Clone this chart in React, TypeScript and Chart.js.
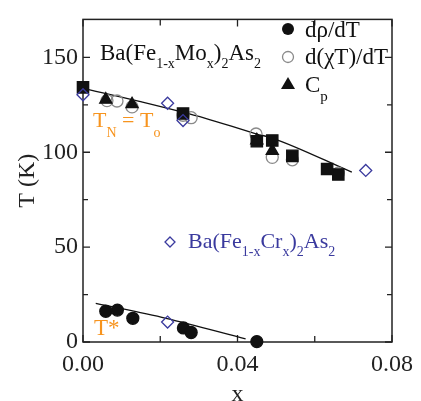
import React, { useEffect, useRef } from "react";
import { Chart, registerables } from "chart.js";
Chart.register(...registerables);

// ---- data (x, T in K) ----
const xLabelTicks = [0, 0.04, 0.08];
const yLabelTicks = [0, 50, 100, 150];

const moSquares: [number, number][] = [
  [0, 134.2], [0.0259, 120.4], [0.045, 105.8], [0.049, 106.2], [0.0542, 98.1], [0.0632, 91.2], [0.0661, 88.3],
];
const moRho: [number, number][] = [
  [0.0059, 16.2], [0.0089, 16.8], [0.0129, 12.5], [0.026, 7.4], [0.028, 5.0], [0.045, 0.2],
];
const moChi: [number, number][] = [
  [0.0062, 127.2], [0.0088, 127.0], [0.0127, 123.9], [0.0259, 119.5], [0.028, 118.2], [0.0448, 109.6],
  [0.049, 97.3], [0.0542, 96.0], [0.0661, 89.0],
];
const moCp: [number, number][] = [
  [0.0059, 127.7], [0.0127, 125.3], [0.045, 106.3], [0.049, 100.7],
];
const crDiamonds: [number, number][] = [
  [0, 130.3], [0.0219, 125.8], [0.0259, 116.7], [0.0732, 90.4], [0.0219, 10.5],
];
const upperFit: [number, number][] = [
  [0, 133.7], [0.0146, 126.8], [0.0317, 117.9], [0.045, 109.6], [0.0488, 107.6], [0.0696, 89.5],
];
const lowerFit: [number, number][] = [
  [0.0033, 20.4], [0.0215, 12.5], [0.0421, 1.7],
];

const BLACK = "#111111";
const GREY = "#8a8a8a";
const BLUE = "#3a3a9e";
const ORANGE = "#f7941e";
const FONT = "'Liberation Serif', 'Times New Roman', serif";

const toPts = (a: [number, number][]) => a.map(([x, y]) => ({ x, y }));

type Part = [string, boolean?];
function drawRich(ctx: CanvasRenderingContext2D, x: number, y: number, parts: Part[], size: number, subSize: number, subDy: number, color: string) {
  ctx.save();
  ctx.fillStyle = color;
  ctx.textBaseline = "alphabetic";
  ctx.textAlign = "left";
  let cx = x;
  for (const [t, sub] of parts) {
    ctx.font = `${sub ? subSize : size}px ${FONT}`;
    ctx.fillText(t, cx, sub ? y + subDy : y);
    cx += ctx.measureText(t).width;
  }
  ctx.restore();
}

const framePlugin = {
  id: "frame",
  beforeDatasetsDraw(chart: any) {
    const { ctx, chartArea: a, scales } = chart;
    ctx.save();
    ctx.strokeStyle = "#222";
    ctx.lineWidth = 1.5;
    ctx.strokeRect(a.left, a.top, a.right - a.left, a.bottom - a.top);
    ctx.lineWidth = 1.3;
    ctx.beginPath();
    for (const t of scales.x.ticks) {
      const px = scales.x.getPixelForValue(t.value);
      const major = xLabelTicks.some((v) => Math.abs(v - t.value) < 1e-9);
      const len = major ? 7 : 6;
      ctx.moveTo(px, a.bottom); ctx.lineTo(px, a.bottom - len);
      ctx.moveTo(px, a.top); ctx.lineTo(px, a.top + len);
    }
    for (const t of scales.y.ticks) {
      if (t.value > 160) continue;
      const py = scales.y.getPixelForValue(t.value);
      const major = yLabelTicks.includes(t.value);
      const len = major ? 7 : 5;
      ctx.moveTo(a.left, py); ctx.lineTo(a.left + len, py);
      ctx.moveTo(a.right, py); ctx.lineTo(a.right - len, py);
    }
    ctx.stroke();
    ctx.restore();
  },
  afterDraw(chart: any) {
    const { ctx } = chart;
    // legend
    ctx.save();
    ctx.fillStyle = BLACK;
    ctx.beginPath(); ctx.arc(288, 29, 6, 0, Math.PI * 2); ctx.fill();
    ctx.strokeStyle = GREY; ctx.lineWidth = 1.3;
    ctx.beginPath(); ctx.arc(288, 57, 5.5, 0, Math.PI * 2); ctx.stroke();
    ctx.beginPath(); ctx.moveTo(288, 77); ctx.lineTo(295, 89); ctx.lineTo(281, 89); ctx.closePath(); ctx.fill();
    ctx.restore();
    drawRich(ctx, 305, 37, [["dρ/dT"]], 23, 14, 8, BLACK);
    drawRich(ctx, 305, 64, [["d(χT)/dT"]], 23, 14, 8, BLACK);
    drawRich(ctx, 305, 92, [["C"], ["p", true]], 23, 15, 9, BLACK);
    // annotations
    drawRich(ctx, 100, 60, [["Ba(Fe"], ["1-x", true], ["Mo"], ["x", true], [")"], ["2", true], ["As"], ["2", true]], 23, 14, 8, BLACK);
    drawRich(ctx, 93, 127, [["T"], ["N", true], [" = T"], ["o", true]], 22, 14, 10, ORANGE);
    drawRich(ctx, 94, 335, [["T*"]], 23, 14, 9, ORANGE);
    ctx.save();
    ctx.strokeStyle = BLUE; ctx.lineWidth = 1.3;
    ctx.beginPath(); ctx.moveTo(170, 237); ctx.lineTo(175, 242); ctx.lineTo(170, 247); ctx.lineTo(165, 242); ctx.closePath(); ctx.stroke();
    ctx.restore();
    drawRich(ctx, 188, 248, [["Ba(Fe"], ["1-x", true], ["Cr"], ["x", true], [")"], ["2", true], ["As"], ["2", true]], 22, 14, 8, BLUE);
  },
};

export default function App() {
  const ref = useRef<HTMLCanvasElement>(null);
  useEffect(() => {
    if (!ref.current) return;
    const scatter = (data: [number, number][], style: string, fill: string, stroke: string, r: number, order: number, bw = 1.3) => ({
      type: "scatter" as const,
      data: toPts(data),
      pointStyle: style,
      pointRadius: r,
      pointBackgroundColor: fill,
      pointBorderColor: stroke,
      pointBorderWidth: bw,
      showLine: false,
      clip: false as any,
      order,
    });
    const line = (data: [number, number][]) => ({
      type: "line" as const,
      data: toPts(data),
      borderColor: BLACK,
      borderWidth: 1.3,
      pointRadius: 0,
      cubicInterpolationMode: "monotone" as const,
      fill: false,
      clip: false as any,
      order: 10,
    });
    const chart = new Chart(ref.current, {
      type: "scatter",
      data: {
        datasets: [
          line(upperFit),
          line(lowerFit),
          scatter(moChi, "circle", "rgba(255,255,255,0)", GREY, 6, 6),
          scatter(moSquares, "rect", BLACK, BLACK, 8, 5),
          scatter(moCp, "triangle", BLACK, BLACK, 7, 4),
          scatter(moRho, "circle", BLACK, BLACK, 6, 3),
          scatter(crDiamonds, "rectRot", "rgba(255,255,255,0)", BLUE, 6, 2),
        ] as any,
      },
      options: {
        responsive: false,
        animation: false,
        devicePixelRatio: 1,
        layout: { padding: { top: 13, right: 26, left: 0, bottom: 0 } },
        plugins: { legend: { display: false }, tooltip: { enabled: false } },
        scales: {
          x: {
            type: "linear",
            min: 0,
            max: 0.08,
            grid: { display: false, drawTicks: false },
            border: { display: false },
            ticks: {
              stepSize: 0.02,
              padding: 8,
              color: "#222",
              font: { family: FONT, size: 24 },
              maxRotation: 0,
              autoSkip: false,
              callback: (v: any) => (xLabelTicks.some((t) => Math.abs(t - v) < 1e-9) ? Number(v).toFixed(2) : ""),
            },
            title: { display: true, text: "x", color: "#222", font: { family: FONT, size: 24 }, padding: { top: 0, bottom: -8 } },
            afterFit: (s: any) => { s.height = 59; },
          },
          y: {
            type: "linear",
            min: 0,
            max: 170,
            grid: { display: false, drawTicks: false },
            border: { display: false },
            ticks: {
              stepSize: 25,
              padding: 5,
              color: "#222",
              font: { family: FONT, size: 24 },
              autoSkip: false,
              callback: (v: any) => (yLabelTicks.includes(Number(v)) ? String(v) : ""),
            },
            title: { display: true, text: "T (K)", color: "#222", font: { family: FONT, size: 24 }, padding: { top: 13, bottom: 0 } },
            afterFit: (s: any) => { s.width = 83; },
          },
        },
      } as any,
      plugins: [framePlugin],
    });
    return () => chart.destroy();
  }, []);
  return (
    <div style={{ position: "absolute", left: 0, top: 0, width: 421, height: 401, background: "#fff" }}>
      <canvas ref={ref} width={421} height={401} style={{ display: "block" }} />
    </div>
  );
}
